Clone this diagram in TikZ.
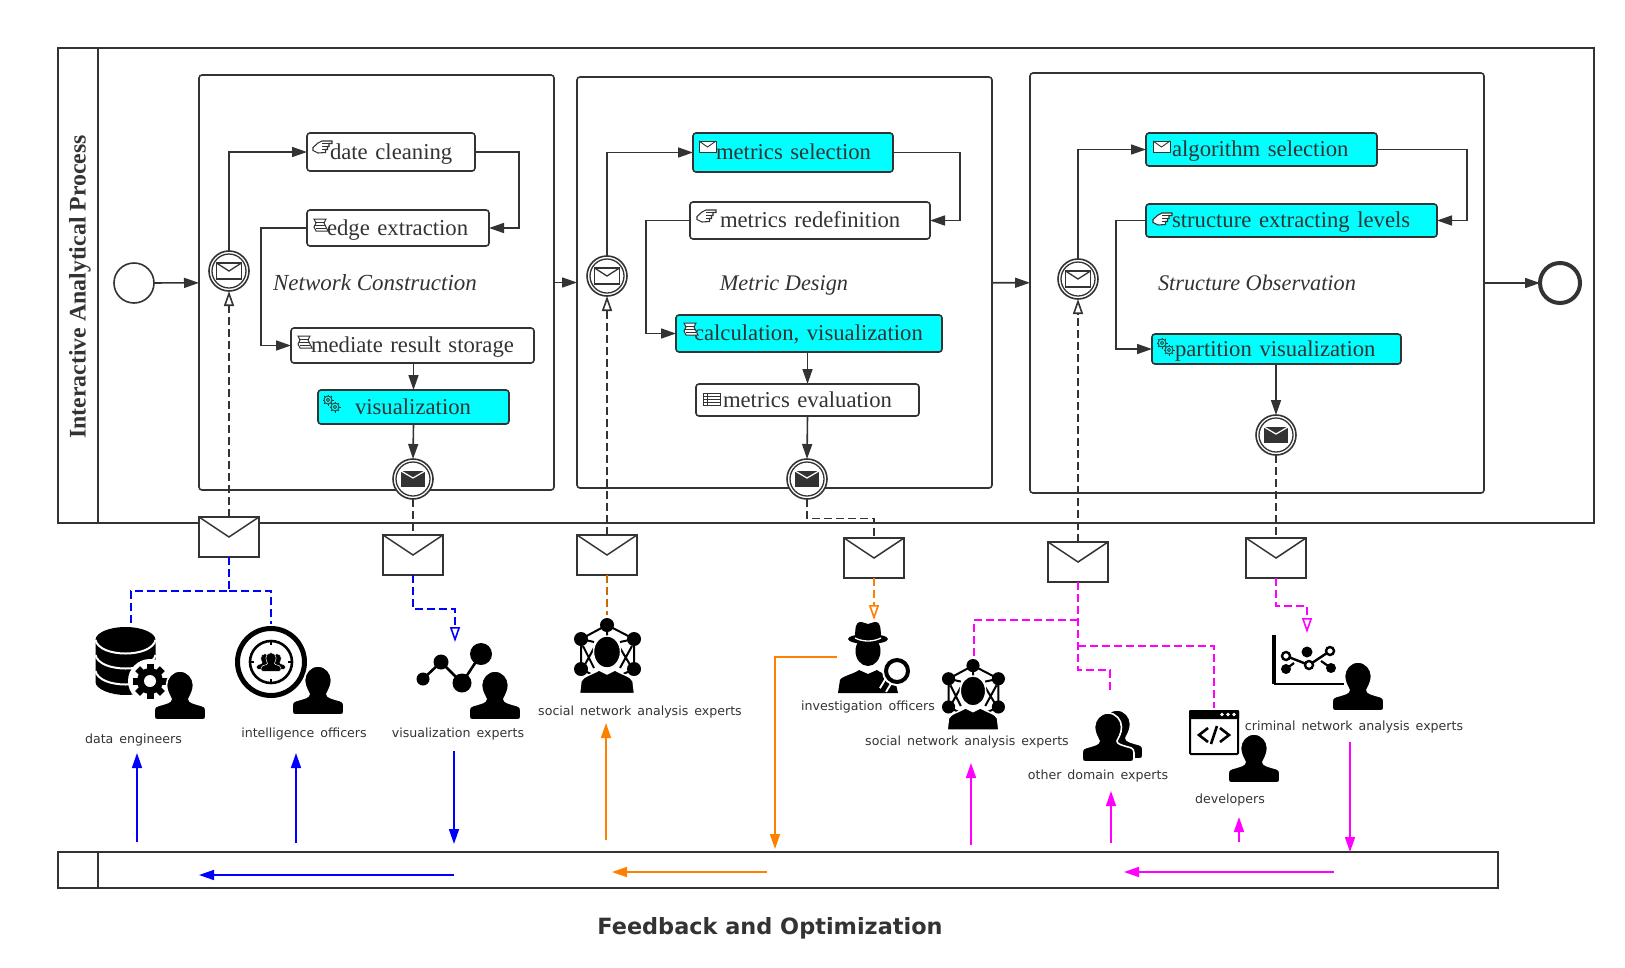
\documentclass[tikz,border=0pt]{standalone}
\usepackage{fontspec}
\setmainfont{Liberation Serif}
\setsansfont{DejaVu Sans}
\newfontfamily\rolefont[WordSpace=1.5]{DejaVu Sans}
\usetikzlibrary{arrows.meta,positioning}
\definecolor{ink}{HTML}{333333}
\definecolor{taskcyan}{HTML}{00FFFF}
\definecolor{fbblue}{HTML}{0000FF}
\definecolor{fborange}{HTML}{FF8000}
\definecolor{fbdarkorange}{HTML}{CC6A00}
\definecolor{fbmagenta}{HTML}{FF00FF}
\newcommand{\personpath}{(0,-1) .. controls (8,-1) and (13.5,6) .. (13.5,13) .. controls (13.5,20) and (10,24) .. (9,27)
  .. controls (9,30) and (13,31) .. (22,33.5) .. controls (25.5,34.5) and (26,37) .. (26,39) -- (26,44)
  .. controls (26,47) and (25,48) .. (22,48) -- (-22,48) .. controls (-25,48) and (-26,47) .. (-26,44) -- (-26,39)
  .. controls (-26,37) and (-25.5,34.5) .. (-22,33.5) .. controls (-13,31) and (-9,30) .. (-9,27)
  .. controls (-10,24) and (-13.5,20) .. (-13.5,13) .. controls (-13.5,6) and (-8,-1) .. (0,-1) -- cycle}
\tikzset{
  poolbox/.style={draw=ink, line width=1.7pt, anchor=north west, inner sep=0pt, outer sep=0pt},
  subbox/.style={draw=ink, line width=1.6pt, rounded corners=3pt, anchor=north west, inner sep=0pt, outer sep=0pt},
  task/.style={draw=ink, line width=1.6pt, rounded corners=3pt, fill=white, anchor=north west, align=left, inner xsep=0pt, inner ysep=0pt, outer sep=0pt, font=\fontsize{22.7}{26}\selectfont, text=ink, text height=17pt, text depth=3pt},
  activetask/.style={task, fill=taskcyan},
  subtitle/.style={font=\fontsize{23}{26}\selectfont\itshape, text=ink, inner sep=0pt, text height=15.5pt, text depth=0pt},
  plainevent/.style={circle, draw=ink, line width=1.6pt, minimum size=40pt, inner sep=0pt, outer sep=0pt},
  catchevent/.style={plainevent, fill=white, path picture={
    \draw[ink, line width=1.3pt] (path picture bounding box.center) circle[radius=17pt];
    \draw[ink, line width=1.5pt] ([shift={(-12.5pt,8pt)}]path picture bounding box.center) rectangle ([shift={(12.5pt,-8pt)}]path picture bounding box.center);
    \draw[ink, line width=1.3pt] ([shift={(-12.5pt,8pt)}]path picture bounding box.center) -- ([shift={(0pt,0pt)}]path picture bounding box.center) -- ([shift={(12.5pt,8pt)}]path picture bounding box.center);}},
  throwevent/.style={plainevent, fill=white, path picture={
    \draw[ink, line width=1.3pt] (path picture bounding box.center) circle[radius=17pt];
    \fill[ink] ([shift={(-12pt,8pt)}]path picture bounding box.center) rectangle ([shift={(12pt,-8pt)}]path picture bounding box.center);
    \draw[white, line width=1.2pt] ([shift={(-12pt,8pt)}]path picture bounding box.center) -- ([shift={(0pt,1pt)}]path picture bounding box.center) -- ([shift={(12pt,8pt)}]path picture bounding box.center);}},
  envelope/.style={draw=ink, line width=1.7pt, fill=white, minimum width=60pt, minimum height=40pt, inner sep=0pt, outer sep=0pt, path picture={
    \draw[ink, line width=1.5pt] (path picture bounding box.north west) -- ([yshift=-20pt]path picture bounding box.north) -- (path picture bounding box.north east);}},
  flow/.style={draw=ink, line width=1.6pt, -{Triangle[length=15pt,width=10pt]}},
  msgline/.style={line width=1.6pt, dash pattern=on 8pt off 4pt},
  opentip/.style={-{Triangle[open,length=15pt,width=10pt]}},
  fbarrow/.style={line width=1.6pt, -{Triangle[length=15pt,width=10pt]}},
  role/.style={font=\rolefont\fontsize{12.6}{15}\selectfont, text=ink, inner sep=0pt, yshift=-1pt},
  person/.pic={\path[fill=black, draw=white, line width=1.6pt] \personpath;},
  tinyperson/.pic={\path[fill=black, draw=white, line width=.5pt] \personpath;},
  msgicon/.pic={\draw[ink, line width=1pt, fill=white] (0,0) rectangle (17,11);
    \draw[ink, line width=.9pt] (0,0) -- (8.5,6) -- (17,0);},
  handicon/.pic={\draw[ink, line width=1.1pt, fill=white] (0,7.5) -- (5,3) -- (9,1) -- (19,1) -- (19,3.5) -- (16,3.5) -- (16,6.5) -- (14.5,6.5) -- (14.5,9.5) -- (12.5,9.5) -- (12.5,12.5) -- (5,13) -- (0,10.5) -- cycle;
    \draw[ink, line width=.9pt] (9,3.5) -- (16,3.5) (9,6.5) -- (14.5,6.5) (9,9.5) -- (12.5,9.5);},
  scripticon/.pic={\draw[ink, line width=1pt, fill=white] (1,0) -- (13,0) -- (11,4) -- (13,8) -- (15,12) -- (3,12) -- (1,8) -- (3,4) -- cycle;
    \draw[ink, line width=.8pt] (2,3) -- (12,3) (2,6) -- (12,6) (3,9) -- (13,9);},
  tableicon/.pic={\draw[ink, line width=.9pt] (0,0) rectangle (17,12);
    \draw[ink, line width=.8pt] (0,3) -- (17,3) (0,6) -- (17,6) (0,9) -- (17,9) (4,0) -- (4,12);},
  gearicon/.pic={\foreach \cx/\cy in {5/5,12/12}{
      \draw[ink, line width=.8pt] (\cx,\cy) circle[radius=4];
      \draw[ink, line width=.7pt] (\cx,\cy) circle[radius=1.7];
      \foreach \a in {0,45,...,315}
        \draw[ink, line width=1pt, rotate around={\a:(\cx,\cy)}] (\cx,\cy-4) -- (\cx,\cy-5.5);}},
  bigcog/.pic={\fill[white] (0,0) circle[radius=22];
    \foreach \a in {0,45,...,315}
      \fill[black, rotate=\a] (-3.5,-17.5) rectangle (3.5,-10);
    \fill[black] (0,0) circle[radius=13];
    \fill[white] (0,0) circle[radius=6];},
  dbicon/.pic={\fill[black] (-30,13) -- (-30,55) .. controls (-30,62) and (-15,68) .. (0,68) .. controls (15,68) and (30,62) .. (30,55) -- (30,13) -- cycle;
    \fill[black] (0,13) ellipse (30 and 13);
    \foreach \dy in {0,15,31}
      \draw[white, line width=2pt] (-30,13+\dy) .. controls (-26,31+\dy) and (26,31+\dy) .. (30,13+\dy);},
  targeticon/.pic={\draw[black, line width=5pt] (0,0) circle[radius=33.5];
    \draw[black, line width=2.6pt] (0,0) circle[radius=21];
    \foreach \a in {0,90,180,270}
      \draw[black, line width=1.6pt, rotate=\a] (0,-21) -- (0,-17);
    \pic[scale=.32] at (-6,-8) {tinyperson};
    \pic[scale=.32] at (6,-8) {tinyperson};
    \pic[scale=.38] at (0,-9) {tinyperson};},
  trendicon/.pic={\draw[black, line width=2.6pt] (0,0) -- (18,-17) -- (39,4) -- (58,-25);
    \fill[black] (0,0) circle[radius=6.5] (18,-17) circle[radius=7.5] (39,4) circle[radius=9.5] (58,-25) circle[radius=11];},
  snaicon/.pic={\draw[black, line width=2pt] (0,7) -- (-26,21) -- (-26,51) -- (-12,58) (0,7) -- (27,21) -- (27,51) -- (12,58)
      (-26,21) -- (-13,24) (27,21) -- (13,24) (0,7) -- (0,20)
      (-24,28) -- (-13,50) (-13,30) -- (-24,50) (25,28) -- (13,50) (13,30) -- (25,50);
    \foreach \cx/\cy in {0/7,-26/21,27/21,-26/51,27/51}
      \fill[black] (\cx,\cy) circle[radius=7];
    \path[fill=black, draw=white, line width=1.4pt] (-27.5,75.5) -- (-26,63) .. controls (-24,58) and (-14,56) .. (-8,52) -- (0,56) -- (8,52) .. controls (14,56) and (24,58) .. (26,63) -- (27.5,75.5) -- cycle;
    \path[fill=black, draw=white, line width=1.4pt] (0,34) ellipse (13.5 and 16);},
  sleuthicon/.pic={\fill[black] (-30,71) -- (-28,58) .. controls (-26,54) and (-14,52) .. (-9,48) -- (0,52) -- (9,48) .. controls (14,52) and (24,54) .. (27,58) -- (30,71) -- cycle;
    \fill[black] (0,29) ellipse (12.5 and 15);
    \fill[black] (-13,18) .. controls (-13,5) and (-12,0) .. (-8,0) .. controls (-4,0) and (-2,2) .. (0,2) .. controls (2,2) and (4,0) .. (8,0) .. controls (12,0) and (13,5) .. (13,18) -- cycle;
    \fill[black] (0,17) ellipse (20 and 5);
    \draw[white, line width=1.3pt] (-13,16) .. controls (-5,20) and (5,20) .. (13,16);
    \draw[white, line width=9pt] (21,58) -- (15,68);
    \draw[black, line width=5pt, line cap=round] (21,58) -- (15,68);
    \draw[white, line width=8pt, fill=white] (29,49) circle[radius=11];
    \draw[black, line width=4pt, fill=white] (29,49) circle[radius=11];},
  codeicon/.pic={\draw[black, line width=2pt, fill=white, rounded corners=1pt] (1,1) rectangle (49,44);
    \fill[black, rounded corners=1pt] (0,0) rectangle (50,9);
    \fill[white] (33,4.5) circle[radius=1.8] (39,4.5) circle[radius=1.8] (45,4.5) circle[radius=1.8];
    \draw[black, line width=2.6pt] (19,18) -- (10,25) -- (19,32) (31,18) -- (40,25) -- (31,32) (28,16) -- (22,34);},
  charticon/.pic={\draw[black, line width=3.6pt] (0,0) -- (0,49);
    \draw[black, line width=1.4pt] (0,49) -- (70,49);
    \fill[black] (33,17) circle[radius=5.5] (12,34) circle[radius=5] (57,33) circle[radius=5];
    \draw[black, line width=2.2pt] (12,34) -- (20,28) (57,33) -- (47,26);
    \draw[black, line width=2.4pt] (12,21) -- (35,30) -- (56,16);
    \draw[black, line width=2.4pt, fill=white] (12,21) circle[radius=4] (35,30) circle[radius=4] (56,16) circle[radius=4];}
}
\begin{document}
\begin{tikzpicture}[x=1pt,y=-1pt,line join=miter]
\useasboundingbox (0,0) rectangle (1625,967);

% pools
\node[poolbox, minimum width=1536pt, minimum height=475pt] (pool) at (58,48) {};
\node[poolbox, minimum width=1440pt, minimum height=36pt] (lane) at (58,852) {};
\draw[draw=ink, line width=1.7pt] ([xshift=40pt]pool.north west) -- ([xshift=40pt]pool.south west);
\draw[draw=ink, line width=1.7pt] ([xshift=40pt]lane.north west) -- ([xshift=40pt]lane.south west);
\node[rotate=90, font=\fontsize{23.8}{26}\selectfont\bfseries, text=ink, inner sep=0pt] (pooltitle) at (80,287) {Interactive Analytical Process};
\node[font=\sffamily\bfseries\fontsize{22.4}{26}\selectfont, text=ink, inner sep=0pt] (lanetitle) at (770,928) {Feedback and Optimization};

% sub-processes
\node[subbox, minimum width=355pt, minimum height=415pt] (sub1) at (199,75) {};
\node[subbox, minimum width=415pt, minimum height=411pt] (sub2) at (577,77) {};
\node[subbox, minimum width=454pt, minimum height=420pt] (sub3) at (1030,73) {};
\node[subtitle] (sub1title) at (375,283) {Network Construction};
\node[subtitle, font=\fontsize{22.3}{26}\selectfont\itshape] (sub2title) at (784,283) {Metric Design};
\node[subtitle, font=\fontsize{22.3}{26}\selectfont\itshape] (sub3title) at (1257,283) {Structure Observation};

\node[plainevent] (start) at (134,283) {};
\node[plainevent, line width=4pt] (finish) at (1560,283) {};

% first sub-process
\node[catchevent] (catch1) at (229,271) {};
\node[throwevent] (throw1) at (413,479) {};
\node[task, text width=168pt, minimum height=38pt] (date) at (307,133) {\hspace*{23pt}date cleaning};
\node[task, text width=182pt, minimum height=36pt, below=39pt of date.south west, anchor=north west] (edge) {\hspace*{20pt}edge extraction};
\node[task, text width=243pt, minimum height=35pt] (mediate) at (291,328) {\hspace*{20pt}mediate result storage};
\node[activetask, text width=191pt, minimum height=34pt] (vis) at (318,390) {\hspace*{37pt}visualization};

% second sub-process
\node[catchevent] (catch2) at (607,276) {};
\node[throwevent] (throw2) at (807,479) {};
\node[activetask, text width=200pt, minimum height=39pt] (select) at (693,133) {\hspace*{23pt}metrics selection};
\node[task, text width=240pt, minimum height=37pt] (redef) at (690,202) {\hspace*{30pt}metrics redefinition};
\node[activetask, text width=266pt, minimum height=37pt] (calc) at (676,315) {\hspace*{18pt}calculation, visualization};
\node[task, text width=223pt, minimum height=32pt] (evaluate) at (696,384) {\hspace*{27pt}metrics evaluation};

% third sub-process
\node[catchevent] (catch3) at (1078,279) {};
\node[throwevent] (throw3) at (1276,435) {};
\node[activetask, text width=231pt, minimum height=33pt] (algo) at (1146,133) {\hspace*{26pt}algorithm selection};
\node[activetask, text width=291pt, minimum height=33pt, below=38pt of algo.south west, anchor=north west] (levels) {\hspace*{26pt}structure extracting levels};
\node[activetask, text width=249pt, minimum height=30pt] (partition) at (1152,334) {\hspace*{23pt}partition visualization};

% task markers
\pic at (313,140) {handicon};
\pic at (313,219) {scripticon};
\pic at (297,336) {scripticon};
\pic at (323,395) {gearicon};
\pic at (699,141) {msgicon};
\pic at (697,209) {handicon};
\pic at (683,323) {scripticon};
\pic at (703,393) {tableicon};
\pic at (1153,141) {msgicon};
\pic at (1153,212) {handicon};
\pic at (1157,338) {gearicon};

% sequence flows
\draw[flow] (start) -- (sub1);
\draw[flow] (sub1) -- (sub2);
\draw[flow] (sub2) -- (sub3);
\draw[flow] (sub3) -- (finish);
\draw[flow] (catch1.north) |- (date.west);
\draw[flow] (date.east) -- ++(44,0) |- (edge.east);
\draw[flow] (edge.west) -- ++(-46,0) |- (mediate.west);
\draw[flow] (vis.north |- mediate.south) -- (vis.north);
\draw[flow] (vis.south) -- (throw1.north);
\draw[flow] (catch2.north) |- (select.west);
\draw[flow] (select.east) -- ++(67,0) |- (redef.east);
\draw[flow] (redef.west) -- ++(-44,0) |- (calc.west);
\draw[flow] (calc.south) -- (calc.south -| evaluate.north) -- (evaluate.north);
\draw[flow] (evaluate.south) -- (throw2.north);
\draw[flow] (catch3.north) |- (algo.west);
\draw[flow] (algo.east) -- ++(90,0) |- (levels.east);
\draw[flow] (levels.west) -- ++(-30,0) |- (partition.west);
\draw[flow] (throw3.north |- partition.south) -- (throw3.north);

% message envelopes
\node[envelope] (env1) at (229,537) {};
\node[envelope, below=36pt of throw1.south] (env2) {};
\node[envelope] (env3) at (607,555) {};
\node[envelope] (env4) at (874,558) {};
\node[envelope] (env5) at (1078,562) {};
\node[envelope] (env6) at (1276,558) {};

% free ends beside the role icons
\foreach \n/\x/\y in {dbtop/131/623, inteltop/271/624, viztop/455/642, snatop/607/615,
    sleuthtop/874/620, snatopb/974/657, othertop/1110/693, devtop/1214/708, charttop/1307/633,
    upa/137/842, upb/137/753, upc/296/843, upd/296/753, dna/454/751, dnb/454/844, lfa/454/875, lfb/199/875,
    upe/606/840, upf/606/723, dnc/837/657, dnd/775/849, lfc/767/872, lfd/612/872,
    upg/971/845, uph/971/763, upi/1111/843, upj/1111/791, upk/1239/842, upl/1239/817,
    dne/1350/742, dnf/1350/852, lfe/1334/872, lff/1124/872}
  \coordinate (\n) at (\x,\y);

% message flows
\draw[msgline, draw=ink, opentip] (env1.north) -- (catch1.south);
\draw[msgline, draw=ink, opentip] (env3.north) -- (catch2.south);
\draw[msgline, draw=ink, opentip] (env5.north) -- (catch3.south);
\draw[msgline, draw=ink] (throw1.south) -- (env2.north);
\draw[msgline, draw=ink] (throw2.south) -- ++(0,19.5) -| (env4.north);
\draw[msgline, draw=ink] (throw3.south) -- (env6.north);
\draw[msgline, draw=fbblue] (env1.south) -- ++(0,34) -| (dbtop);
\draw[msgline, draw=fbblue] ([yshift=-34pt]env1.south) -| (inteltop);
\draw[msgline, draw=fbblue, opentip] (env2.south) -- ++(0,34) -| (viztop);
\draw[msgline, draw=fbdarkorange] (env3.south) -- (snatop);
\draw[msgline, draw=fborange, opentip] (env4.south) -- (sleuthtop);
\draw[msgline, draw=fbmagenta] (env5.south) -- ++(0,88) -| (othertop);
\draw[msgline, draw=fbmagenta] ([yshift=-38pt]env5.south) -| (snatopb);
\draw[msgline, draw=fbmagenta] ([yshift=-64pt]env5.south) -| (devtop);
\draw[msgline, draw=fbmagenta, opentip] (env6.south) -- ++(0,28) -| (charttop);

% feedback arrows
\draw[fbarrow, draw=fbblue] (upa) -- (upb);
\draw[fbarrow, draw=fbblue] (upc) -- (upd);
\draw[fbarrow, draw=fbblue] (dna) -- (dnb);
\draw[fbarrow, draw=fbblue] (lfa) -- (lfb);
\draw[fbarrow, draw=fborange] (upe) -- (upf);
\draw[fbarrow, draw=fborange] (dnc) -| (dnd);
\draw[fbarrow, draw=fborange] (lfc) -- (lfd);
\draw[fbarrow, draw=fbmagenta] (upg) -- (uph);
\draw[fbarrow, draw=fbmagenta] (upi) -- (upj);
\draw[fbarrow, draw=fbmagenta] (upk) -- (upl);
\draw[fbarrow, draw=fbmagenta] (dne) -- (dnf);
\draw[fbarrow, draw=fbmagenta] (lfe) -- (lff);

% role icons
\pic at (125.5,627) {dbicon};
\pic at (150,681) {bigcog};
\pic at (180,672) {person};
\pic at (271,662) {targeticon};
\pic at (318,667) {person};
\pic at (423,679) {trendicon};
\pic at (495,672) {person};
\pic at (607,618) {snaicon};
\pic at (868,622) {sleuthicon};
\pic[scale=.94] at (973,659) {snaicon};
\pic at (1117,711) {person};
\pic at (1108,714) {person};
\pic at (1189,710) {codeicon};
\pic at (1254,735) {person};
\pic at (1274,635) {charticon};
\pic at (1358,663) {person};

% role labels
\node[role] (dataeng) at (133.5,739) {data engineers};
\node[role] (intel) at (304,733) {intelligence officers};
\node[role] (vizexp) at (458,733) {visualization experts};
\node[role] (snaexp) at (640,711) {social network analysis experts};
\node[role] (invest) at (868,706) {investigation officers};
\node[role] (snaexpb) at (967,741) {social network analysis experts};
\node[role] (domain) at (1098,775) {other domain experts};
\node[role] (devs) at (1230,799) {developers};
\node[role] (crime) at (1354,726) {criminal network analysis experts};
\end{tikzpicture}
\end{document}
